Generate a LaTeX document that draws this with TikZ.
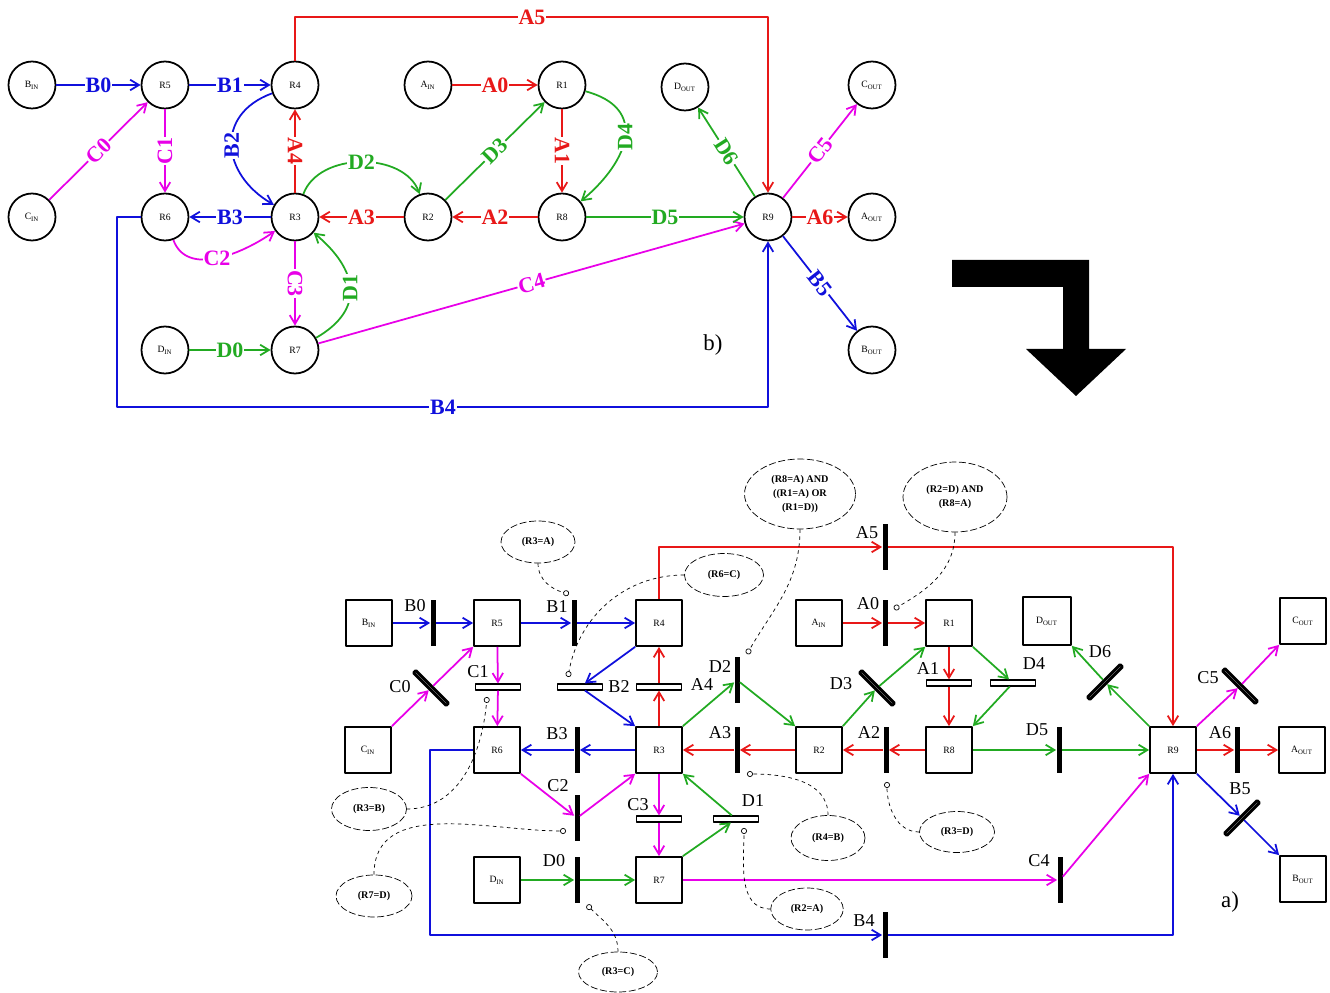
\documentclass[tikz,border=0pt]{standalone}
\usepackage{fontspec}
\setmainfont{Liberation Serif}
\usetikzlibrary{arrows.meta, shapes.geometric}

\definecolor{pnred}{RGB}{232,24,24}
\definecolor{pnblue}{RGB}{16,16,220}
\definecolor{pngreen}{RGB}{34,170,34}
\definecolor{pnmag}{RGB}{232,0,232}

\tikzset{
  circ/.style={circle, draw, line width=1pt, minimum size=0.94cm, inner sep=0pt, font=\fontsize{5.5}{6}\selectfont},
  sq/.style={rectangle, draw, line width=1pt, minimum size=0.92cm, inner sep=0pt, font=\fontsize{5.5}{6}\selectfont},
  tlab/.style={fill=white, inner sep=0.6pt, font=\bfseries\fontsize{12.5}{14}\selectfont},
  blab/.style={inner sep=0pt, font=\fontsize{10.3}{12}\selectfont},
  vbar/.style={rectangle, fill=black, minimum width=0.1cm, minimum height=0.92cm, inner sep=0pt},
  hbar/.style={rectangle, draw, fill=white, line width=0.9pt, minimum width=0.9cm, minimum height=0.11cm, inner sep=0pt},
  dbar/.style={hbar, line width=1.6pt, minimum width=0.92cm, minimum height=0.07cm},
  cond/.style={ellipse, draw, line width=0.4pt, dash pattern=on 4pt off 1.5pt, align=center, inner sep=0pt, font=\bfseries\fontsize{5.8}{8}\selectfont},
  test/.style={line width=0.4pt, dash pattern=on 2pt off 2pt, -{Circle[open, length=3.4pt, width=3.4pt]}},
  flow/.style={-{Straight Barb[length=5pt, width=6pt]}, line width=1pt},
}

\begin{document}
\begin{tikzpicture}[x=0.02cm, y=-0.02cm, line join=round]
  \useasboundingbox (0,0) rectangle (1330,993);

  % graph b)
  \node[circ] (cBin) at (32,85) {B\textsubscript{IN}};
  \node[circ] (cR5) at (165,85) {R5};
  \node[circ] (cR4) at (295,85) {R4};
  \node[circ] (cAin) at (428,85) {A\textsubscript{IN}};
  \node[circ] (cR1) at (562,85) {R1};
  \node[circ] (cDout) at (685,87) {D\textsubscript{OUT}};
  \node[circ] (cCout) at (872,85) {C\textsubscript{OUT}};
  \node[circ] (cCin) at (32,217) {C\textsubscript{IN}};
  \node[circ] (cR6) at (165,217) {R6};
  \node[circ] (cR3) at (295,217) {R3};
  \node[circ] (cR2) at (428,217) {R2};
  \node[circ] (cR8) at (562,217) {R8};
  \node[circ] (cR9) at (768,217) {R9};
  \node[circ] (cAout) at (872,217) {A\textsubscript{OUT}};
  \node[circ] (cDin) at (165,350) {D\textsubscript{IN}};
  \node[circ] (cR7) at (295,350) {R7};
  \node[circ] (cBout) at (872,350) {B\textsubscript{OUT}};
  \coordinate (cA5) at (532,17);
  \coordinate (cB4) at (443,407);

  \draw[flow, pnblue] (cBin) -- node[tlab]{B0} (cR5);
  \draw[flow, pnblue] (cR5) -- node[tlab]{B1} (cR4);
  \draw[flow, pnmag] (cCin) -- node[tlab, sloped]{C0} (cR5);
  \draw[flow, pnmag] (cR5) -- node[tlab, rotate=90]{C1} (cR6);
  \draw[flow, pnblue] (cR4) to[out=200, in=150, looseness=1.4] node[tlab, rotate=90]{B2} (cR3);
  \draw[flow, pnred] (cR3) -- node[tlab, rotate=-90]{A4} (cR4);
  \draw[flow, pngreen] (cR3) to[out=70, in=110] node[tlab]{D2} (cR2);
  \draw[flow, pnred] (cR2) -- node[tlab]{A3} (cR3);
  \draw[flow, pnblue] (cR3) -- node[tlab]{B3} (cR6);
  \draw[flow, pnmag] (cR6) to[out=-70, in=-145] node[tlab]{C2} (cR3);
  \draw[flow, pnmag] (cR3) -- node[tlab, rotate=-90]{C3} (cR7);
  \draw[flow, pngreen] (cR7) to[out=30, in=-40, looseness=1.4] node[tlab, rotate=90]{D1} (cR3);
  \draw[flow, pngreen] (cDin) -- node[tlab]{D0} (cR7);
  \draw[flow, pnmag] (cR7) -- node[tlab, sloped]{C4} (cR9);
  \draw[flow, pnred] (cAin) -- node[tlab]{A0} (cR1);
  \draw[flow, pngreen] (cR2) -- node[tlab, sloped]{D3} (cR1);
  \draw[flow, pnred] (cR1) -- node[tlab, rotate=-90]{A1} (cR8);
  \draw[flow, pngreen] (cR1) to[out=-15, in=40, looseness=1.5] node[tlab, rotate=90]{D4} (cR8);
  \draw[flow, pnred] (cR8) -- node[tlab]{A2} (cR2);
  \draw[flow, pngreen] (cR8) -- node[tlab]{D5} (cR9);
  \draw[flow, pngreen] (cR9) -- node[tlab, sloped]{D6} (cDout);
  \draw[flow, pnmag] (cR9) -- node[tlab, sloped]{C5} (cCout);
  \draw[flow, pnred] (cR9) -- node[tlab]{A6} (cAout);
  \draw[flow, pnblue] (cR9) -- node[tlab, sloped]{B5} (cBout);
  \draw[flow, pnred] (cR4) |- (cA5) node[tlab]{A5} -| (cR9);
  \draw[flow, pnblue] (cR6) -- (117,217) |- (cB4) node[tlab]{B4} -| (cR9);

  \node[font=\fontsize{13}{15}\selectfont] (capb) at (713,345) {b)};

  % big arrow
  \fill (952,260) -- (1089,260) -- (1089,349) -- (1126,349) -- (1076,396)
    -- (1026,349) -- (1063,349) -- (1063,287) -- (952,287) -- cycle;

  % net a)
  \node[sq] (sBin) at (369,623) {B\textsubscript{IN}};
  \node[sq] (sR5) at (497,623) {R5};
  \node[sq] (sR4) at (659,623) {R4};
  \node[sq] (sAin) at (819,623) {A\textsubscript{IN}};
  \node[sq] (sR1) at (949,623) {R1};
  \node[sq, minimum size=0.96cm] (sDout) at (1047,621) {D\textsubscript{OUT}};
  \node[sq] (sCout) at (1303,621) {C\textsubscript{OUT}};
  \node[sq] (sCin) at (368,750) {C\textsubscript{IN}};
  \node[sq] (sR6) at (497,750) {R6};
  \node[sq] (sR3) at (659,750) {R3};
  \node[sq] (sR2) at (819,750) {R2};
  \node[sq] (sR8) at (949,750) {R8};
  \node[sq] (sR9) at (1173,750) {R9};
  \node[sq] (sAout) at (1302,750) {A\textsubscript{OUT}};
  \node[sq] (sDin) at (497,880) {D\textsubscript{IN}};
  \node[sq] (sR7) at (659,880) {R7};
  \node[sq] (sBout) at (1303,879) {B\textsubscript{OUT}};

  \node[vbar] (tB0) at (433,623) {};
  \node[vbar] (tB1) at (574,623) {};
  \node[dbar, rotate=-45] (tC0) at (431,688) {};
  \node[hbar] (tC1) at (498,687) {};
  \node[hbar] (tB2) at (580,687) {};
  \node[hbar] (tA4) at (659,687) {};
  \node[vbar] (tB3) at (577,750) {};
  \node[vbar] (tC2) at (577,818) {};
  \node[hbar] (tC3) at (659,819) {};
  \node[hbar] (tD1) at (736,819) {};
  \node[vbar] (tD0) at (577,880) {};
  \node[vbar] (tD2) at (737,680) {};
  \node[vbar] (tA3) at (737,750) {};
  \node[vbar] (tA0) at (885,623) {};
  \node[vbar] (tA5) at (885,547) {};
  \node[dbar, rotate=-45] (tD3) at (877,688) {};
  \node[hbar] (tA1) at (949,683) {};
  \node[hbar] (tD4) at (1013,683) {};
  \node[vbar] (tA2) at (886,750) {};
  \node[vbar] (tD5) at (1059,750) {};
  \node[dbar, rotate=45] (tD6) at (1105,682) {};
  \node[dbar, rotate=-45] (tC5) at (1240,686) {};
  \node[vbar] (tA6) at (1237,750) {};
  \node[dbar, rotate=45] (tB5) at (1242,818) {};
  \node[vbar] (tC4) at (1060,880) {};
  \node[vbar] (tB4) at (885,935) {};

  \node[blab] (lB0) at (415,606) {B0};
  \node[blab] (lB1) at (557,607) {B1};
  \node[blab] (lC0) at (400,687) {C0};
  \node[blab] (lC1) at (478,672) {C1};
  \node[blab] (lB2) at (619,687) {B2};
  \node[blab] (lA4) at (702,685) {A4};
  \node[blab] (lB3) at (557,734) {B3};
  \node[blab] (lC2) at (558,786) {C2};
  \node[blab] (lC3) at (638,805) {C3};
  \node[blab] (lD1) at (753,801) {D1};
  \node[blab] (lD0) at (554,861) {D0};
  \node[blab] (lD2) at (720,667) {D2};
  \node[blab] (lA3) at (720,733) {A3};
  \node[blab] (lA0) at (868,604) {A0};
  \node[blab] (lA5) at (867,533) {A5};
  \node[blab] (lD3) at (841,684) {D3};
  \node[blab] (lA1) at (928,669) {A1};
  \node[blab] (lD4) at (1034,664) {D4};
  \node[blab] (lA2) at (869,733) {A2};
  \node[blab] (lD5) at (1037,730) {D5};
  \node[blab] (lD6) at (1100,652) {D6};
  \node[blab] (lC5) at (1208,678) {C5};
  \node[blab] (lA6) at (1220,733) {A6};
  \node[blab] (lB5) at (1240,789) {B5};
  \node[blab] (lC4) at (1039,861) {C4};
  \node[blab] (lB4) at (864,921) {B4};

  \draw[flow, pnblue] (sBin) -- (tB0);   \draw[flow, pnblue] (tB0) -- (sR5);
  \draw[flow, pnblue] (sR5) -- (tB1);    \draw[flow, pnblue] (tB1) -- (sR4);
  \draw[flow, pnmag] (sCin.north east) -- (tC0); \draw[flow, pnmag] (tC0) -- (sR5.south west);
  \draw[flow, pnmag] (sR5) -- (tC1);     \draw[flow, pnmag] (tC1) -- (sR6);
  \draw[flow, pnblue] (sR4.south west) -- (tB2); \draw[flow, pnblue] (tB2) -- (sR3.north west);
  \draw[flow, pnred] (sR3) -- (tA4);     \draw[flow, pnred] (tA4) -- (sR4);
  \draw[flow, pnblue] (sR3) -- (tB3);    \draw[flow, pnblue] (tB3) -- (sR6);
  \draw[flow, pnmag] (sR6.south east) -- (tC2); \draw[flow, pnmag] (tC2) -- (sR3.south west);
  \draw[flow, pnmag] (sR3) -- (tC3);     \draw[flow, pnmag] (tC3) -- (sR7);
  \draw[flow, pngreen] (sR7.north east) -- (tD1); \draw[flow, pngreen] (tD1) -- (sR3.south east);
  \draw[flow, pngreen] (sDin) -- (tD0);  \draw[flow, pngreen] (tD0) -- (sR7);
  \draw[flow, pngreen] (sR3.north east) -- (tD2); \draw[flow, pngreen] (tD2) -- (sR2.north west);
  \draw[flow, pnred] (sR2) -- (tA3);     \draw[flow, pnred] (tA3) -- (sR3);
  \draw[flow, pnred] (sAin) -- (tA0);    \draw[flow, pnred] (tA0) -- (sR1);
  \draw[flow, pngreen] (sR2.north east) -- (tD3); \draw[flow, pngreen] (tD3) -- (sR1.south west);
  \draw[flow, pnred] (sR1) -- (tA1);     \draw[flow, pnred] (tA1) -- (sR8);
  \draw[flow, pngreen] (sR1.south east) -- (tD4); \draw[flow, pngreen] (tD4) -- (sR8.north east);
  \draw[flow, pnred] (sR8) -- (tA2);     \draw[flow, pnred] (tA2) -- (sR2);
  \draw[flow, pngreen] (sR8) -- (tD5);   \draw[flow, pngreen] (tD5) -- (sR9);
  \draw[flow, pngreen] (sR9.north west) -- (tD6); \draw[flow, pngreen] (tD6) -- (sDout.south east);
  \draw[flow, pnmag] (sR9.north east) -- (tC5); \draw[flow, pnmag] (tC5) -- (sCout.south west);
  \draw[flow, pnred] (sR9) -- (tA6);     \draw[flow, pnred] (tA6) -- (sAout);
  \draw[flow, pnblue] (sR9.south east) -- (tB5); \draw[flow, pnblue] (tB5) -- (sBout.north west);
  \draw[flow, pnmag] (sR7) -- (tC4);     \draw[flow, pnmag] (tC4) -- (sR9.south west);
  \draw[flow, pnred] (sR4.north) |- (tA5);
  \draw[flow, pnred] (tA5) -| (sR9.north);
  \draw[flow, pnblue] (sR6.west) -| (430,935) -- (tB4);
  \draw[flow, pnblue] (tB4) -| (sR9.south);

  \node[cond, minimum width=1.48cm, minimum height=0.84cm] (gR3A) at (538,542) {(R3=A)};
  \node[cond, minimum width=1.58cm, minimum height=0.86cm] (gR6C) at (724,575) {(R6=C)};
  \node[cond, minimum width=2.22cm, minimum height=1.4cm] (gD2) at (800,494) {(R8=A) AND\\((R1=A) OR\\(R1=D))};
  \node[cond, minimum width=2.08cm, minimum height=1.4cm] (gA0) at (955,497) {(R2=D) AND\\(R8=A)};
  \node[cond, minimum width=1.5cm, minimum height=0.86cm] (gR3B) at (369,809) {(R3=B)};
  \node[cond, minimum width=1.52cm, minimum height=0.84cm] (gR7D) at (374,896) {(R7=D)};
  \node[cond, minimum width=1.58cm, minimum height=0.8cm] (gR3C) at (618,972) {(R3=C)};
  \node[cond, minimum width=1.48cm, minimum height=0.9cm] (gR4B) at (828,838) {(R4=B)};
  \node[cond, minimum width=1.5cm, minimum height=0.82cm] (gR3D) at (957,832) {(R3=D)};
  \node[cond, minimum width=1.45cm, minimum height=0.84cm] (gR2A) at (807,909) {(R2=A)};

  \coordinate (kB1) at (569,594);
  \coordinate (kB2) at (568,677);
  \coordinate (kD2) at (747,654);
  \coordinate (kA0) at (894,609);
  \coordinate (kC1) at (487,697);
  \coordinate (kC2) at (566,831);
  \coordinate (kD0) at (587,905);
  \coordinate (kA3) at (747,774);
  \coordinate (kA2) at (887,782);
  \coordinate (kD1) at (744,828);

  \draw[test] (gR3A.south) to[out=-90, in=165] (kB1);
  \draw[test] (gR6C.west) to[out=180, in=80] (kB2);
  \draw[test] (gD2.south) to[out=-90, in=60] (kD2);
  \draw[test] (gA0.south) to[out=-90, in=30] (kA0);
  \draw[test] (gR3B.east) to[out=0, in=-95] (kC1);
  \draw[test] (gR7D.north) to[out=90, in=180] (kC2);
  \draw[test] (gR3C.north) to[out=90, in=-45] (kD0);
  \draw[test] (gR4B.north) to[out=90, in=0] (kA3);
  \draw[test] (gR3D.west) to[out=180, in=-90] (kA2);
  \draw[test] (gR2A.west) to[out=180, in=-90] (kD1);

  \node[font=\fontsize{13}{15}\selectfont] (capa) at (1230,902) {a)};
\end{tikzpicture}
\end{document}
